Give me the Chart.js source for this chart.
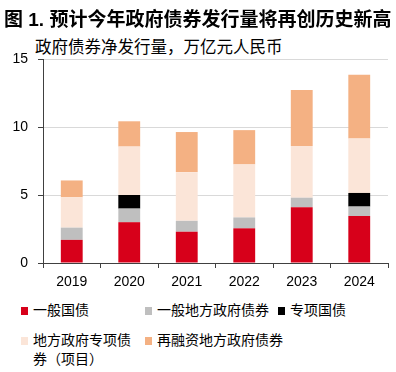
<!DOCTYPE html>
<html>
<head>
<meta charset="utf-8">
<script src="https://cdn.jsdelivr.net/npm/chart.js@4.4.0/dist/chart.umd.min.js"></script>
<style>
  body { margin: 0; background: #fff; font-family: "Liberation Sans", Arial, "Noto Sans CJK SC", sans-serif; }
  #wrap { position: relative; width: 396px; height: 372px; overflow: hidden; }
  #title { position: absolute; left: 4px; top: 4px; font-size: 19px; font-weight: bold; color: #000; white-space: nowrap; }
  #sub { position: absolute; left: 35px; top: 36px; width: 285px; height: 23px; background: #fff; font-size: 16.5px; line-height: 23px; color: #000; white-space: nowrap; }
  #chart { position: absolute; left: 0; top: 0; }
  .lg { position: absolute; font-size: 14px; color: #000; line-height: 19px; }
  .lg i { position: absolute; left: -12px; top: 6px; width: 7px; height: 8px; }
</style>
</head>
<body>
<div id="wrap">
  <canvas id="chart" width="396" height="300"></canvas>
  <div id="title">图 1. 预计今年政府债券发行量将再创历史新高</div>
  <div id="sub">政府债券净发行量，万亿元人民币</div>
  <div id="legend"></div>
</div>
<script>
const years = ["2019", "2020", "2021", "2022", "2023", "2024"];
const seriesNames = ["一般国债", "一般地方政府债券", "专项国债", "地方政府专项债券（项目）", "再融资地方政府债券"];
const generalTreasury = [1.7, 3.0, 2.3, 2.55, 4.1, 3.45];
const generalLocal = [0.9, 1.0, 0.8, 0.8, 0.7, 0.7];
const specialTreasury = [0, 1.0, 0, 0, 0, 1.0];
const localSpecial = [2.23, 3.56, 3.58, 3.9, 3.8, 4.0];
const refinancing = [1.24, 1.86, 2.95, 2.52, 4.12, 4.69];
const yTicks = [0, 5, 10, 15];

const colors = ["#D7001A", "#BFBFBF", "#000000", "#FBE5D8", "#F4B183"];
const values = [generalTreasury, generalLocal, specialTreasury, localSpecial, refinancing];

// legend slots: [left of text, top, width]
const legendSlots = [[33, 301, 120], [157, 301, 120], [290, 301, 100], [33, 331, 104], [157, 331, 200]];

new Chart(document.getElementById("chart").getContext("2d"), {
    type: "bar",
    data: {
        labels: years,
        datasets: seriesNames.map((name, i) => ({
            label: name,
            data: values[i],
            backgroundColor: colors[i],
            borderWidth: 0,
            categoryPercentage: 1,
            barPercentage: 0.38
        }))
    },
    options: {
        responsive: false,
        animation: false,
        layout: { padding: { top: 59, right: 8, left: 0, bottom: 0 } },
        plugins: { legend: { display: false }, tooltip: { enabled: false } },
        scales: {
            x: {
                stacked: true,
                offset: true,
                border: { color: "#404040", width: 1 },
                grid: { display: true, drawOnChartArea: false, offset: true, tickLength: 5, tickColor: "#404040" },
                ticks: { color: "#000", font: { size: 14, family: "Liberation Sans" }, padding: 6 },
                afterFit(s) { s.height = 37; }
            },
            y: {
                stacked: true,
                min: 0,
                max: 15,
                afterBuildTicks(s) { s.ticks = yTicks.map(v => ({ value: v })); },
                border: { color: "#404040", width: 1 },
                grid: { color: "#D9D9D9", tickLength: 5, tickColor: "#404040" },
                ticks: { color: "#000", font: { size: 14, family: "Liberation Sans" }, padding: 10 },
                afterFit(s) { s.width = 43; }
            }
        }
    }
});

const legend = document.getElementById("legend");
seriesNames.forEach((name, i) => {
    const [x, y, w] = legendSlots[i];
    const d = document.createElement("div");
    d.className = "lg";
    d.style.left = x + "px";
    d.style.top = y + "px";
    d.style.width = w + "px";
    d.innerHTML = '<i style="background:' + colors[i] + '"></i>' + name;
    legend.appendChild(d);
});
</script>
</body>
</html>
